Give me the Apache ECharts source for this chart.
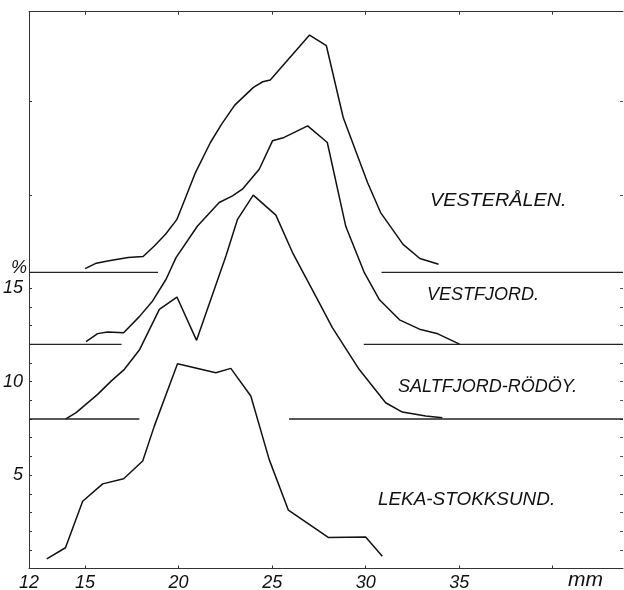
<!DOCTYPE html>
<html><head><meta charset="utf-8">
<script src="https://cdn.jsdelivr.net/npm/echarts@6/dist/echarts.min.js"></script>
<style>html,body{margin:0;padding:0;background:#fff}#c{width:624px;height:590px}</style>
</head><body><div id="c"></div>
<script>
// Size distributions (mm) of four localities, each curve plotted on its own offset baseline (%)
const seriesNames = ['VESTERÅLEN.', 'VESTFJORD.', 'SALTFJORD-RÖDÖY.', 'LEKA-STOKKSUND.'];

const vesteralenX = [15.0, 15.6, 16.2, 17.3, 18.1, 18.7, 19.3, 19.9, 20.3, 20.9, 21.7, 22.3, 23.0, 24.0, 24.5, 24.9, 27.0, 27.9, 28.8, 30.1, 30.8, 32.0, 32.9, 33.9];
const vesteralenY = [16.05, 16.34, 16.46, 16.64, 16.70, 17.26, 17.89, 18.67, 19.67, 21.19, 22.80, 23.78, 24.80, 25.75, 26.05, 26.15, 28.55, 27.98, 24.14, 20.66, 19.05, 17.35, 16.59, 16.28];

const vestfjordX = [15.05, 15.67, 16.2, 17.06, 17.9, 18.61, 19.33, 19.86, 21.01, 22.17, 22.88, 23.41, 24.31, 25.02, 25.64, 26.9, 27.95, 28.94, 29.93, 30.74, 31.81, 32.88, 33.86, 35.02];
const vestfjordY = [12.14, 12.57, 12.66, 12.62, 13.48, 14.32, 15.48, 16.64, 18.33, 19.59, 19.94, 20.30, 21.37, 22.89, 23.07, 23.69, 22.80, 18.30, 15.83, 14.38, 13.31, 12.81, 12.56, 12.01];

const saltfjordX = [13.95, 14.52, 15.67, 16.39, 17.1, 17.9, 18.97, 19.91, 20.96, 22.53, 23.15, 23.99, 25.2, 26.09, 27.33, 28.22, 29.65, 31.07, 31.96, 33.21, 34.1];
const saltfjordY = [8.00, 8.34, 9.32, 10.03, 10.66, 11.69, 13.87, 14.53, 12.21, 16.73, 18.69, 19.98, 18.91, 16.91, 14.58, 12.89, 10.66, 8.87, 8.37, 8.16, 8.07];

const lekaX = [12.95, 13.95, 14.87, 15.94, 17.06, 18.08, 18.7, 19.94, 21.99, 22.79, 23.86, 24.84, 25.87, 28.0, 30.0, 30.89];
const lekaY = [0.52, 1.11, 3.60, 4.53, 4.80, 5.75, 7.62, 10.96, 10.48, 10.71, 9.23, 5.84, 3.12, 1.66, 1.68, 0.66];

// offset baselines and where each baseline is interrupted by its curve
const baseLevels = [15.85, 12, 8];
const baseGapStart = [18.9, 16.95, 17.9];
const baseGapEnd = [30.85, 29.9, 25.9];

// axes
const xMin = 12, xMax = 43.76;
const yMin = 0, yMax = 29.8;
const xLabelValues = [12, 15, 20, 25, 30, 35];
const xTickValues = [15, 20, 25, 30, 35, 40];
const yLabelValues = [5, 10, 15];
const yTickValues = [1, 2, 3, 4, 5, 6, 7, 8, 9, 10, 11, 12, 13, 14, 15, 20, 25];

const INK = '#111';
const FONT = '"Liberation Sans", Arial, sans-serif';

function zip(xs, ys) { return xs.map((x, i) => [x, ys[i]]); }

const curves = [
  zip(vesteralenX, vesteralenY),
  zip(vestfjordX, vestfjordY),
  zip(saltfjordX, saltfjordY),
  zip(lekaX, lekaY)
];

const series = [];
curves.forEach((d, i) => {
  series.push({
    name: seriesNames[i], type: 'line', data: d, showSymbol: false, smooth: false,
    lineStyle: { color: INK, width: 1.5 }, z: 3, silent: true
  });
});
baseLevels.forEach((lvl, i) => {
  series.push({ type: 'line', data: [[xMin, lvl], [baseGapStart[i], lvl]], showSymbol: false,
    lineStyle: { color: '#222', width: 1.3 }, silent: true });
  series.push({ type: 'line', data: [[baseGapEnd[i], lvl], [xMax, lvl]], showSymbol: false,
    lineStyle: { color: '#222', width: 1.3 }, silent: true });
});

const axisLineStyle = { show: true, onZero: false, lineStyle: { color: '#333', width: 1 } };
const labelStyle = { fontFamily: FONT, fontStyle: 'italic', fontSize: 18, color: INK };

const chart = echarts.init(document.getElementById('c'), null, { renderer: 'canvas' });
chart.setOption({
  animation: false,
  backgroundColor: '#fff',
  grid: { left: 29, right: 1, top: 11.7, bottom: 21.5, containLabel: false, outerBoundsMode: 'none' },
  xAxis: [
    { type: 'value', min: xMin, max: xMax, position: 'bottom',
      axisLine: axisLineStyle,
      axisTick: { show: true, inside: true, length: 3, customValues: xTickValues, lineStyle: { color: '#333' } },
      axisLabel: Object.assign({ customValues: xLabelValues, margin: 5 }, labelStyle),
      splitLine: { show: false } },
    { type: 'value', min: xMin, max: xMax, position: 'top',
      axisLine: axisLineStyle,
      axisTick: { show: true, inside: true, length: 3, customValues: xTickValues, lineStyle: { color: '#333' } },
      axisLabel: { show: false }, splitLine: { show: false } }
  ],
  yAxis: [
    { type: 'value', min: yMin, max: yMax, position: 'left',
      axisLine: axisLineStyle,
      axisTick: { show: true, inside: true, length: 3, customValues: yTickValues, lineStyle: { color: '#333' } },
      axisLabel: Object.assign({ customValues: yLabelValues, margin: 6 }, labelStyle),
      splitLine: { show: false } },
    { type: 'value', min: yMin, max: yMax, position: 'right',
      axisLine: { show: false, onZero: false },
      axisTick: { show: true, inside: true, length: 3, customValues: yTickValues, lineStyle: { color: '#555' } },
      axisLabel: { show: false }, splitLine: { show: false } }
  ],
  graphic: [
    { type: 'text', left: 430, top: 192, scaleX: 1.1, style: { text: seriesNames[0], font: 'italic 18px ' + FONT, fill: INK } },
    { type: 'text', left: 427, top: 286, style: { text: seriesNames[1], font: 'italic 18px ' + FONT, fill: INK } },
    { type: 'text', left: 398, top: 378, style: { text: seriesNames[2], font: 'italic 18px ' + FONT, fill: INK } },
    { type: 'text', left: 378, top: 491, scaleX: 1.05, style: { text: seriesNames[3], font: 'italic 18px ' + FONT, fill: INK } },
    { type: 'text', left: 11, top: 259, style: { text: '%', font: 'italic 18px ' + FONT, fill: INK } },
    { type: 'text', left: 568, top: 570, style: { text: 'mm', font: 'italic 21px ' + FONT, fill: INK } }
  ],
  series: series
});
</script>
</body></html>
